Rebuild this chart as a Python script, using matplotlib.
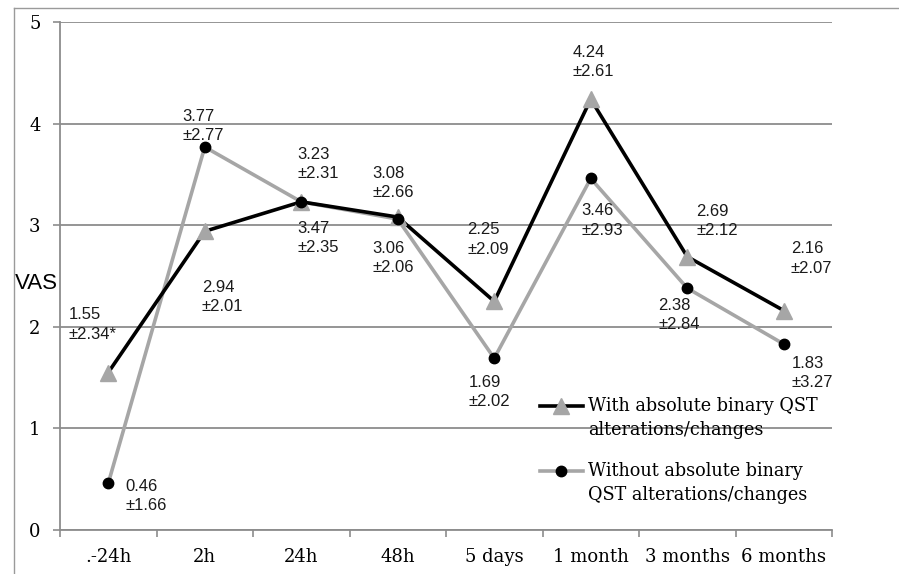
import matplotlib
matplotlib.use("Agg")
import numpy as np
import matplotlib.pyplot as plt
from matplotlib.lines import Line2D
from matplotlib.legend_handler import HandlerLine2D

# categories and series
timepoints = [".-24h", "2h", "24h", "48h", "5 days", "1 month", "3 months", "6 months"]
with_vas = [1.55, 2.94, 3.23, 3.08, 2.25, 4.24, 2.69, 2.16]
without_vas = [0.46, 3.77, 3.23, 3.06, 1.69, 3.46, 2.38, 1.83]

# printed labels (mean / sd) as they appear on the chart
with_mean_txt = ["1.55", "2.94", "3.23", "3.08", "2.25", "4.24", "2.69", "2.16"]
with_sd_txt = ["2.34*", "2.01", "2.31", "2.66", "2.09", "2.61", "2.12", "2.07"]
without_mean_txt = ["0.46", "3.77", "3.47", "3.06", "1.69", "3.46", "2.38", "1.83"]
without_sd_txt = ["1.66", "2.77", "2.35", "2.06", "2.02", "2.93", "2.84", "3.27"]

# label offsets in pixels (dx right, dy down) from each point
with_off = [(-40, -48), (-3, 66), (-4, -38), (-25, -34), (-27, -62), (-18, -37), (9, -36), (7, -52)]
without_off = [(17, 13), (-22, -21), (-4, 36), (-25, 39), (-26, 34), (-9, 42), (-29, 27), (8, 29)]

BLACK = "#000000"
LGRAY = "#a6a6a6"
GRID = "#8c8c8c"


class FirstLineHandler(HandlerLine2D):
    # put the legend sample next to the first line of a two-line label
    def create_artists(self, legend, orig_handle, xdescent, ydescent, width, height, fontsize, trans):
        arts = super().create_artists(legend, orig_handle, xdescent, ydescent, width, height, fontsize, trans)
        for a in arts:
            a.set_ydata(np.asarray(a.get_ydata(), float) + 0.75 * fontsize)
        return arts


fig = plt.figure(figsize=(8.99, 5.74), dpi=100)
ax = fig.add_axes([60 / 899, 44 / 574, 772 / 899, 508 / 574])

# outer frame of the figure (left and top edges only)
fy = 1 - 8 / 574
fx = 14 / 899
fig.add_artist(Line2D([fx, fx], [0, fy], transform=fig.transFigure, color="#9a9a9a", lw=1.0))
fig.add_artist(Line2D([fx, 1], [fy, fy], transform=fig.transFigure, color="#9a9a9a", lw=1.0))

x = list(range(len(timepoints)))

ax.plot(x, with_vas, color=BLACK, lw=2.6, zorder=4)
ax.plot(x, without_vas, color=LGRAY, lw=2.6, zorder=3)
ax.plot(x, with_vas, ls="none", marker="^", ms=12, color=LGRAY, mec=LGRAY, zorder=5)
ax.plot(x, without_vas, ls="none", marker="o", ms=7.5, color=BLACK, mec=BLACK, zorder=6)

for i in x:
    dx, dy = with_off[i]
    ax.annotate(with_mean_txt[i] + "\n\u00b1" + with_sd_txt[i], (i, with_vas[i]),
                xytext=(dx, -dy), textcoords="offset pixels", ha="left", va="center",
                fontsize=12, family="Liberation Sans", color="#1a1a1a", linespacing=1.35,
                zorder=7)
    dx, dy = without_off[i]
    ax.annotate(without_mean_txt[i] + "\n\u00b1" + without_sd_txt[i], (i, without_vas[i]),
                xytext=(dx, -dy), textcoords="offset pixels", ha="left", va="center",
                fontsize=12, family="Liberation Sans", color="#1a1a1a", linespacing=1.35,
                zorder=7)

ax.set_xlim(-0.5, len(timepoints) - 0.5)
ax.set_ylim(0, 5)
ax.set_yticks([0, 1, 2, 3, 4, 5])
ax.set_xticks(x)
ax.set_xticklabels(timepoints, family="DejaVu Serif", fontsize=13)
ax.set_xticks([i - 0.5 for i in range(len(timepoints) + 1)], minor=True)
for lab in ax.get_yticklabels():
    lab.set_family("DejaVu Serif")
    lab.set_fontsize(13)

ax.tick_params(axis="x", which="major", length=0, pad=13)
ax.tick_params(axis="x", which="minor", length=5, width=1.2, color=GRID, direction="out")
ax.tick_params(axis="y", length=5, width=1.2, color=GRID, pad=9)

ax.grid(axis="y", color=GRID, lw=1.3)
ax.set_axisbelow(True)
for side in ["top", "right"]:
    ax.spines[side].set_visible(False)
for side in ["left", "bottom"]:
    ax.spines[side].set_color(GRID)
    ax.spines[side].set_linewidth(1.3)

ax.set_ylabel("VAS", rotation=0, family="Liberation Sans", fontsize=16, ha="center", va="center")
ax.yaxis.set_label_coords(-0.03, 0.486)

handles = [
    Line2D([], [], color=BLACK, lw=2.6, marker="^", ms=12, mfc=LGRAY, mec=LGRAY),
    Line2D([], [], color=LGRAY, lw=2.6, marker="o", ms=7.5, mfc=BLACK, mec=BLACK),
]
labels = ["With absolute binary QST\nalterations/changes",
          "Without absolute binary\nQST alterations/changes"]
leg = ax.legend(handles, labels, loc="upper left", bbox_to_anchor=(0.622, 0.262),
                frameon=False, handlelength=2.4, handletextpad=0.3, labelspacing=1.3,
                borderpad=0, borderaxespad=0, prop={"family": "DejaVu Serif", "size": 12.7},
                handler_map={Line2D: FirstLineHandler()})
for t in leg.get_texts():
    t.set_linespacing(1.45)

fig.savefig("out.png", dpi=100)
